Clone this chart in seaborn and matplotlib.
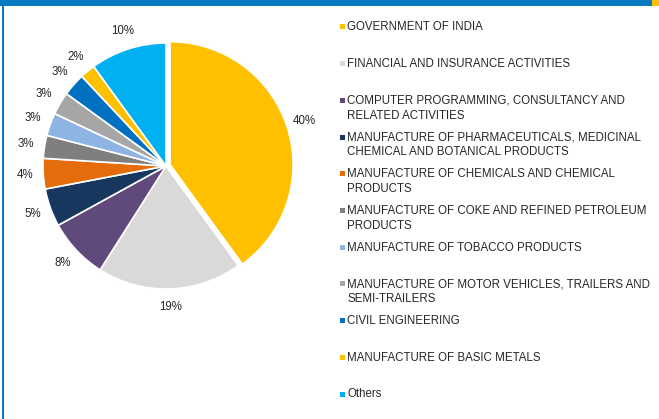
import matplotlib
matplotlib.use('Agg')
import matplotlib.pyplot as plt
from matplotlib.patches import Rectangle
import seaborn as sns

sectors = [
    'GOVERNMENT OF INDIA',
    'FINANCIAL AND INSURANCE ACTIVITIES',
    'COMPUTER PROGRAMMING, CONSULTANCY AND\nRELATED ACTIVITIES',
    'MANUFACTURE OF PHARMACEUTICALS, MEDICINAL\nCHEMICAL AND BOTANICAL PRODUCTS',
    'MANUFACTURE OF CHEMICALS AND CHEMICAL\nPRODUCTS',
    'MANUFACTURE OF COKE AND REFINED PETROLEUM\nPRODUCTS',
    'MANUFACTURE OF TOBACCO PRODUCTS',
    'MANUFACTURE OF MOTOR VEHICLES, TRAILERS AND\nSEMI-TRAILERS',
    'CIVIL ENGINEERING',
    'MANUFACTURE OF BASIC METALS',
    'Others',
]
shares = [40, 19, 8, 5, 4, 3, 3, 3, 3, 2, 10]
colors = ['#FFC000', '#D9D9D9', '#604A7B', '#17375E', '#E46C0A', '#7F7F7F',
          '#8DB4E2', '#A6A6A6', '#0070C0', '#FFC000', '#00B0F0']

sns.set_style('white')
plt.rcParams['font.family'] = ['Liberation Sans', 'DejaVu Sans']
FS = 8.3
plt.rcParams['font.size'] = FS

W, H = 659, 419
fig = plt.figure(figsize=(W / 100, H / 100), dpi=100)

# pie: centre (166, 166) px, radius 123 px
cx, cy, r = 166, 166, 123
ax = fig.add_axes([(cx - r) / W, 1 - (cy + r) / H, 2 * r / W, 2 * r / H])
explode = [0.035] + [0] * (len(shares) - 1)
ax.pie(shares, colors=colors, startangle=90, counterclock=False, explode=explode,
       autopct='%.0f%%', pctdistance=1.15,
       wedgeprops={'edgecolor': 'white', 'linewidth': 1.2},
       textprops={'fontsize': FS, 'color': '#262626'})
ax.set_xlim(-1, 1)
ax.set_ylim(-1, 1)
ax.set_aspect('auto')
ax.axis('off')

# legend drawn by hand to keep the even spacing of the original
y0, step = 27, 36.7
for i, (name, col) in enumerate(zip(sectors, colors)):
    yc = y0 + i * step
    fig.patches.append(Rectangle((339.5 / W, 1 - (yc + 2.5) / H), 5 / W, 5 / H,
                                 transform=fig.transFigure, color=col, lw=0))
    fig.text(347 / W, 1 - (yc - 5.6) / H, name, fontsize=FS, color='#262626',
             va='top', ha='left', linespacing=1.32)

# frame bits of the slide
fig.patches.append(Rectangle((0, 1 - 6 / H), 1, 6 / H, transform=fig.transFigure,
                             color='#0A7AC0', lw=0))
fig.patches.append(Rectangle((652 / W, 1 - 6 / H), 7 / W, 6 / H, transform=fig.transFigure,
                             color='#FFC000', lw=0))
fig.patches.append(Rectangle((1.5 / W, 0), 2.5 / W, 1, transform=fig.transFigure,
                             color='#0A7AC0', lw=0))

fig.savefig('out.png', dpi=100)
